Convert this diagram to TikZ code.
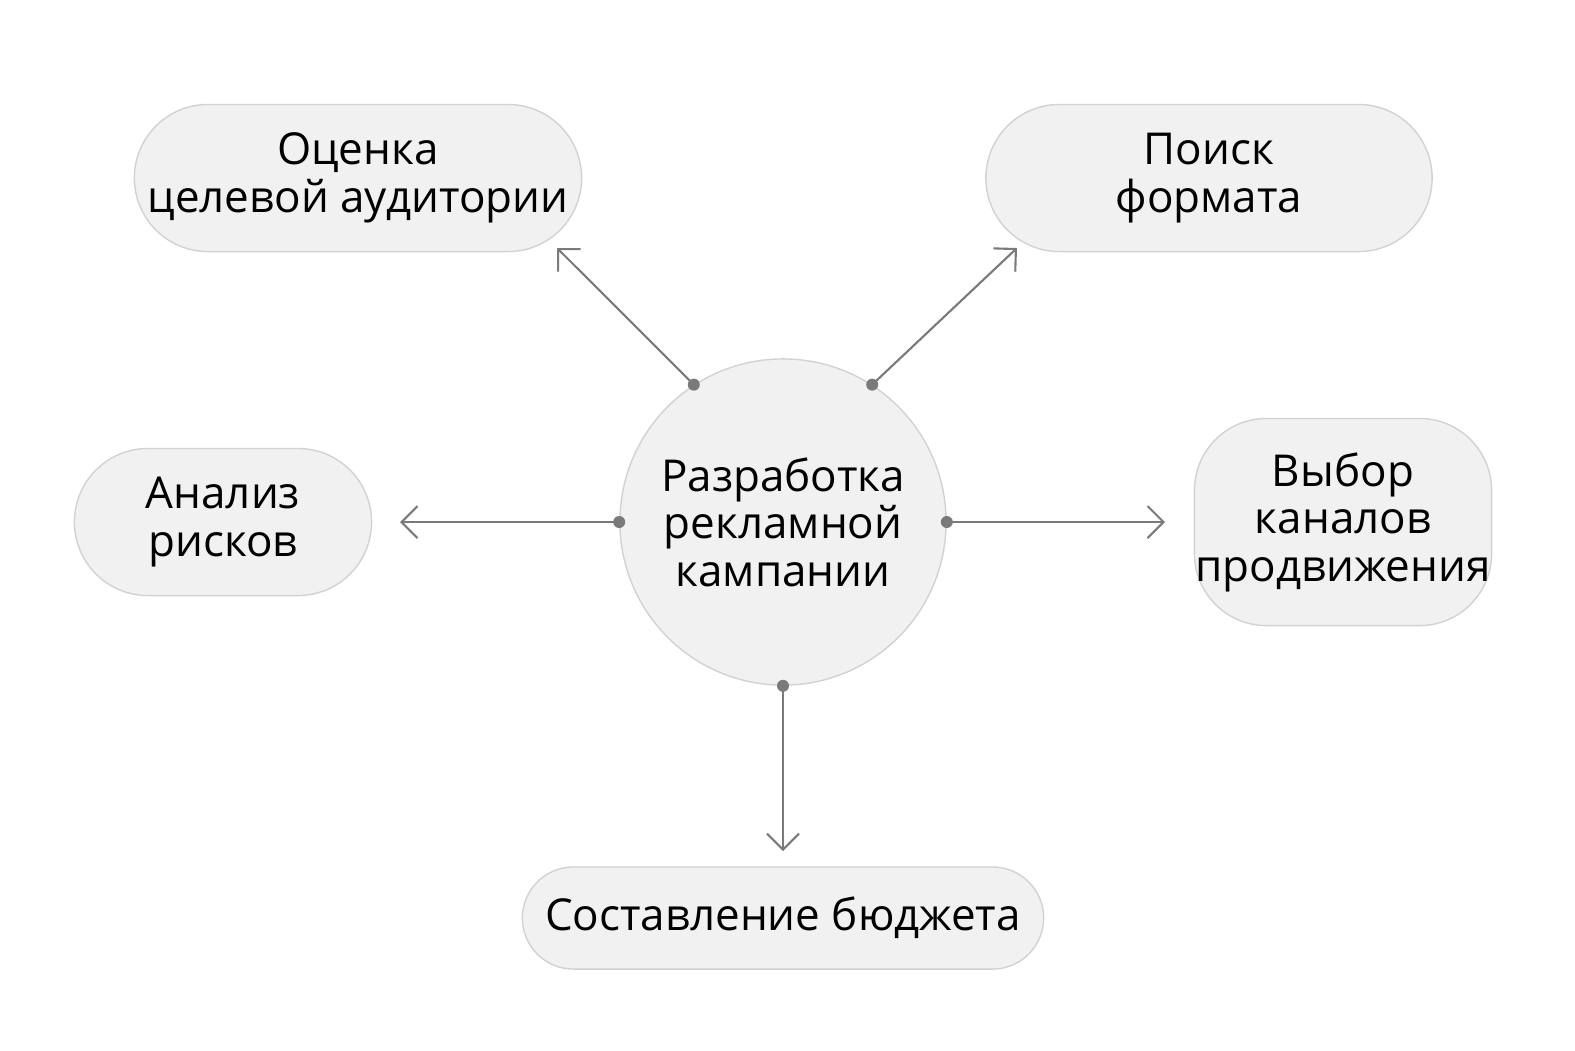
\documentclass[tikz,border=0pt]{standalone}
\usepackage{fontspec}
\setmainfont{Open Sans}
\usetikzlibrary{arrows.meta,positioning}
\definecolor{boxfill}{HTML}{F1F1F1}
\definecolor{boxline}{HTML}{D2D2D2}
\definecolor{wire}{HTML}{7A7A7A}
\tikzset{
	pill/.style={draw=boxline,fill=boxfill,thin,align=center,
		font=\fontsize{12.5}{13.5}\selectfont,inner sep=0pt},
	hub/.style={pill,circle,minimum size=3.26cm},
	ar/.style={draw=wire,semithick,-{Straight Barb[length=1.6mm,width=3.2mm]}},
	dot/.style={circle,fill=wire,inner sep=0pt,minimum size=1.2mm}
}
\begin{document}
\begin{tikzpicture}[x=0.01cm,y=-0.01cm]
   \useasboundingbox (0,0) rectangle (1575,1050);
   \node[hub] (campaign) at (783,522) {Разработка\\рекламной\\кампании};
   \node[pill,minimum width=4.47cm,minimum height=1.47cm,rounded corners=0.735cm] (audience) at (358,178) {Оценка\\целевой аудитории};
   \node[pill,minimum width=4.46cm,minimum height=1.47cm,rounded corners=0.735cm] (format) at (1209,178) {Поиск\\формата};
   \node[pill,minimum width=2.97cm,minimum height=1.47cm,rounded corners=0.735cm] (risks) at (223,522) {Анализ\\рисков};
   \node[pill,minimum width=2.97cm,minimum height=2.07cm,rounded corners=0.72cm] (channels) at (1343,522) {Выбор\\каналов\\продвижения};
   \node[pill,minimum width=5.21cm,minimum height=1.02cm,rounded corners=0.51cm] (budget) at (783,918) {Составление бюджета};
   % arrow tips
   \coordinate (tipA) at (557,248);
   \coordinate (tipB) at (1017,248);
   \coordinate (tipC) at (400,522);
   \coordinate (tipD) at (1165,522);
   \coordinate (tipE) at (783,851);
   \draw[ar] (campaign.123) -- (tipA);
   \draw[ar] (campaign.57) -- (tipB);
   \draw[ar] (campaign.180) -- (tipC);
   \draw[ar] (campaign.0) -- (tipD);
   \draw[ar] (campaign.270) -- (tipE);
   \foreach \a in {123,57,180,0,270}
      \node[dot] at (campaign.\a) {};
\end{tikzpicture}
\end{document}
